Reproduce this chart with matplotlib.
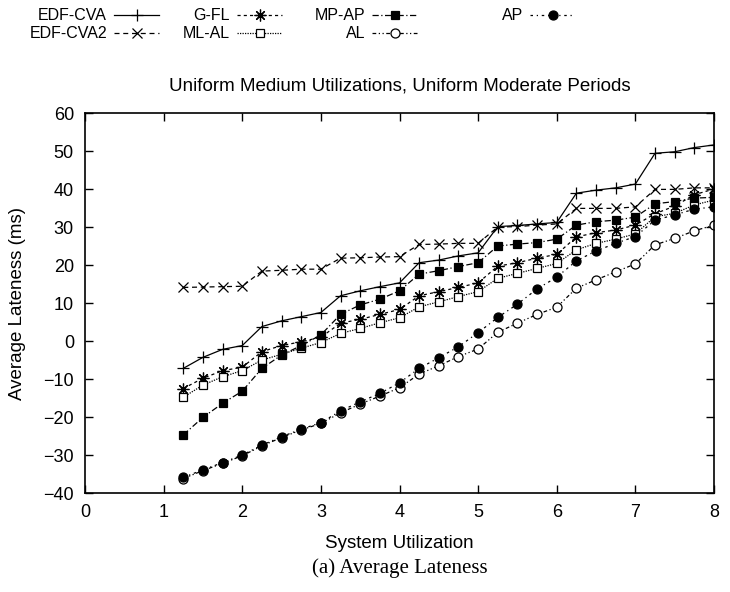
import matplotlib
matplotlib.use("Agg")
import matplotlib.pyplot as plt
from matplotlib.lines import Line2D

plt.rcParams['font.family'] = ['Liberation Sans', 'DejaVu Sans']

# system utilization sample points
util = [1.25, 1.5, 1.75, 2.0, 2.25, 2.5, 2.75, 3.0, 3.25, 3.5, 3.75, 4.0,
        4.25, 4.5, 4.75, 5.0, 5.25, 5.5, 5.75, 6.0, 6.25, 6.5, 6.75, 7.0,
        7.25, 7.5, 7.75, 8.0]

edf_cva = [-7.2, -4.3, -2.2, -1.2, 3.8, 5.3, 6.4, 7.5, 11.9, 13.2, 14.3, 15.3,
           20.6, 21.3, 22.4, 23.2, 30.1, 30.4, 30.8, 31.2, 38.9, 39.7, 40.3, 41.3,
           49.4, 49.8, 50.9, 51.6]
edf_cva2 = [14.1, 14.2, 14.3, 14.4, 18.4, 18.6, 18.9, 18.9, 21.8, 21.9, 22.1, 22.2,
            25.4, 25.5, 25.7, 25.7, 30.0, 30.1, 30.5, 30.8, 34.9, 34.9, 34.9, 35.3,
            39.9, 39.9, 40.3, 40.3]
g_fl = [-12.5, -9.8, -7.8, -6.9, -2.8, -1.2, -0.2, 1.0, 4.7, 5.7, 7.0, 8.3,
        11.9, 13.0, 14.1, 15.3, 19.7, 20.6, 21.8, 22.8, 27.4, 28.5, 29.2, 30.5,
        33.5, 35.5, 38.5, 40.0]
ml_al = [-14.8, -11.6, -9.4, -7.8, -5.0, -3.5, -1.9, -0.4, 2.0, 3.3, 4.8, 6.1,
         9.0, 10.3, 11.7, 13.0, 16.5, 17.8, 19.1, 20.4, 24.0, 25.7, 26.8, 28.2,
         32.7, 33.6, 35.8, 37.1]
mp_ap = [-24.7, -20.1, -16.4, -13.2, -7.2, -3.7, -1.2, 1.6, 7.0, 9.5, 11.0, 13.2,
         17.6, 18.5, 19.6, 20.6, 25.0, 25.5, 25.9, 26.8, 30.5, 31.4, 31.8, 32.6,
         36.1, 36.7, 37.6, 37.8]
al = [-36.2, -34.1, -32.2, -30.2, -27.6, -25.4, -23.4, -21.7, -18.9, -16.6, -14.5, -12.3,
      -8.7, -6.5, -4.1, -2.1, 2.3, 4.7, 7.0, 8.9, 13.9, 16.1, 18.2, 20.3,
      25.3, 27.0, 29.0, 30.5]
ap = [-35.9, -33.9, -32.0, -30.0, -27.4, -25.2, -23.2, -21.5, -18.4, -16.0, -13.8, -11.0,
      -7.2, -4.4, -1.5, 2.2, 6.2, 9.7, 13.7, 16.8, 21.1, 23.7, 25.7, 27.5,
      31.8, 33.2, 34.7, 35.3]

series = [
    ("EDF-CVA", edf_cva, dict(ls='-', marker='+', ms=9, mfc='black')),
    ("EDF-CVA2", edf_cva2, dict(ls=(0, (4, 3)), marker='x', ms=6.5, mfc='black')),
    ("G-FL", g_fl, dict(ls=(0, (2.5, 2.5)), marker=(8, 2, 0), ms=8.5, mfc='black')),
    ("ML-AL", ml_al, dict(ls=(0, (1, 1)), marker='s', ms=6, mfc='white')),
    ("MP-AP", mp_ap, dict(ls=(0, (5, 2, 1, 2)), marker='s', ms=6, mfc='black')),
    ("AL", al, dict(ls=(0, (3, 2, 1, 2, 1, 2)), marker='o', ms=6.5, mfc='white')),
    ("AP", ap, dict(ls=(0, (2, 3, 1, 3)), marker='o', ms=6.5, mfc='black')),
]

fig = plt.figure(figsize=(7.3, 5.92), dpi=100)
ax = fig.add_axes([85 / 730, 1 - 493 / 592, (714 - 85) / 730, (493 - 113) / 592])

for name, vals, st in series:
    ax.plot(util, vals, color='black', lw=0.9, mec='black', mew=0.9, label=name,
            **st)

ax.set_xlim(0, 8)
ax.set_ylim(-40, 60)
ax.set_xticks(range(0, 9))
ax.set_yticks(range(-40, 61, 10))
ax.tick_params(direction='in', length=6, width=1, top=True, right=True,
               labelsize=13, pad=8)
for sp in ax.spines.values():
    sp.set_linewidth(1.2)

fig.text(399.5 / 730, 1 - 86 / 592, "Uniform Medium Utilizations, Uniform Moderate Periods",
         ha='center', va='center', fontsize=13.5)
fig.text(399.5 / 730, 1 - 543 / 592, "System Utilization", ha='center', va='center',
         fontsize=13.5)
fig.text(18 / 730, 1 - 303 / 592, "Average Lateness (ms)", ha='center', va='center',
         rotation=90, fontsize=13.5)
fig.text(399.5 / 730, 1 - 568 / 592, "(a) Average Lateness", ha='center', va='center',
         fontsize=15, family=['Liberation Serif', 'DejaVu Serif'])

# legend laid out like gnuplot's key: text right aligned, sample to the right
key_pos = [(107, 15), (107, 33), (230, 15), (230, 33), (365, 15), (365, 33), (523, 15)]
for (name, vals, st), (xr, yr) in zip(series, key_pos):
    fy = 1 - yr / 592
    fig.text(xr / 730, fy, name, ha='right', va='center', fontsize=11.5)
    x0, x1 = (xr + 7) / 730, (xr + 52) / 730
    fig.add_artist(Line2D([x0, x1], [fy, fy], transform=fig.transFigure,
                          color='black', lw=0.9, ls=st['ls']))
    fig.add_artist(Line2D([(x0 + x1) / 2], [fy], transform=fig.transFigure,
                          color='black', marker=st['marker'], ms=st['ms'],
                          mfc=st['mfc'], mec='black', mew=0.9, ls='none'))

fig.savefig("out.png", dpi=100)
